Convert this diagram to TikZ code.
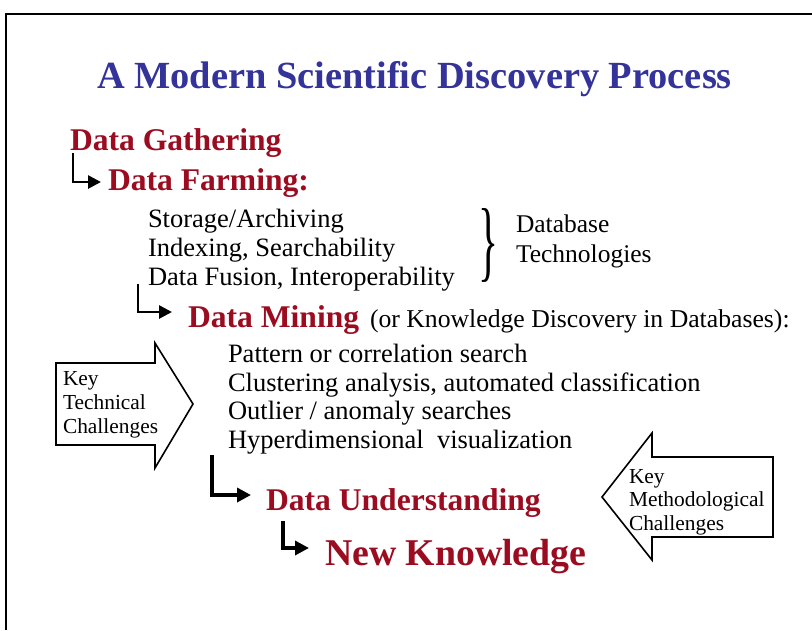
\documentclass[tikz,border=0pt]{standalone}
\usepackage{fontspec}
\setmainfont{Liberation Serif}
\usetikzlibrary{arrows.meta}

\definecolor{titleblue}{RGB}{51,51,153}
\definecolor{stepred}{RGB}{155,12,32}

\newcommand{\fsz}[1]{\fontsize{#1pt}{#1pt}\selectfont}

\tikzset{
  txt/.style={anchor=base west, inner sep=0pt, outer sep=0pt},
  stage/.style={txt, text=stepred, font=\fsz{31.6}\bfseries},
  body/.style={txt, font=\fsz{26.5}},
  keytxt/.style={txt, font=\fsz{21.4}},
  elbow/.style={line width=2.7pt, -{Triangle[length=13pt,width=13pt]}},
  elbowthick/.style={line width=3.4pt, -{Triangle[length=14pt,width=14pt]}},
  blockarrow/.style={draw=black, line width=1.6pt, fill=white, line join=miter},
  frame/.style={draw=black, line width=2.6pt}
}

\begin{document}
\begin{tikzpicture}[x=1pt,y=-1pt]
\useasboundingbox (0,0) rectangle (812,630);

% slide frame
\draw[frame] (6,630) -- (6,14) -- (812,14);

% title
\node[txt, text=titleblue, font=\fsz{38.4}\bfseries] (title) at (97,88)
  {A Modern Scientific Discovery Process};

% stages
\node[stage] (dg) at (70,150) {Data Gathering};
\node[stage] (df) at (108,190) {Data Farming:};

\node[body] (s1) at (148,227) {Storage/Archiving};
\node[body] (s2) at (148,256) {Indexing, Searchability};
\node[body] (s3) at (148,285) {Data Fusion, Interoperability};

\node[inner sep=0pt] (brace) at (488,245) {\resizebox{20pt}{62pt}{\}}};
\node[txt, font=\fsz{25.5}] (db1) at (516,232) {Database};
\node[txt, font=\fsz{25.5}] (db2) at (516,262) {Technologies};

\node[stage] (dm) at (188,327) {Data Mining};
\node[txt, font=\fsz{25.7}] (kdd) at (370,327) {(or Knowledge Discovery in Databases):};

\node[body] (m1) at (228,362) {Pattern or correlation search};
\node[body] (m2) at (228,391) {Clustering analysis, automated classification};
\node[body] (m3) at (228,419) {Outlier / anomaly searches};
\node[body] (m4) at (228,448) {Hyperdimensional\ \ visualization};

\node[stage] (du) at (266,510) {Data Understanding};
\node[stage, font=\fsz{37.8}\bfseries] (nk) at (325,565) {New Knowledge};

% elbow connectors between stages
\coordinate (a1s) at (73,153);  \coordinate (a1e) at (101,182);
\coordinate (a2s) at (138,284); \coordinate (a2e) at (172,312);
\coordinate (a3s) at (212,455); \coordinate (a3e) at (251,495);
\coordinate (a4s) at (283,521); \coordinate (a4e) at (309,548);
\draw[elbow] (a1s) |- (a1e);
\draw[elbow] (a2s) |- (a2e);
\draw[elbowthick] (a3s) |- (a3e);
\draw[elbowthick] (a4s) |- (a4e);

% block arrow: technical challenges
\draw[blockarrow] (56,363) -- (155,363) -- (155,343) -- (193,404)
  -- (155,468) -- (155,445) -- (56,445) -- cycle;
\node[keytxt] (kt1) at (63,385) {Key};
\node[keytxt] (kt2) at (63,409) {Technical};
\node[keytxt] (kt3) at (63,433) {Challenges};

% block arrow: methodological challenges
\draw[blockarrow] (773,457) -- (652,457) -- (652,433) -- (602,497)
  -- (652,560) -- (652,537) -- (773,537) -- cycle;
\node[keytxt] (km1) at (629,483) {Key};
\node[keytxt] (km2) at (629,506) {Methodological};
\node[keytxt] (km3) at (629,530) {Challenges};
\end{tikzpicture}
\end{document}
